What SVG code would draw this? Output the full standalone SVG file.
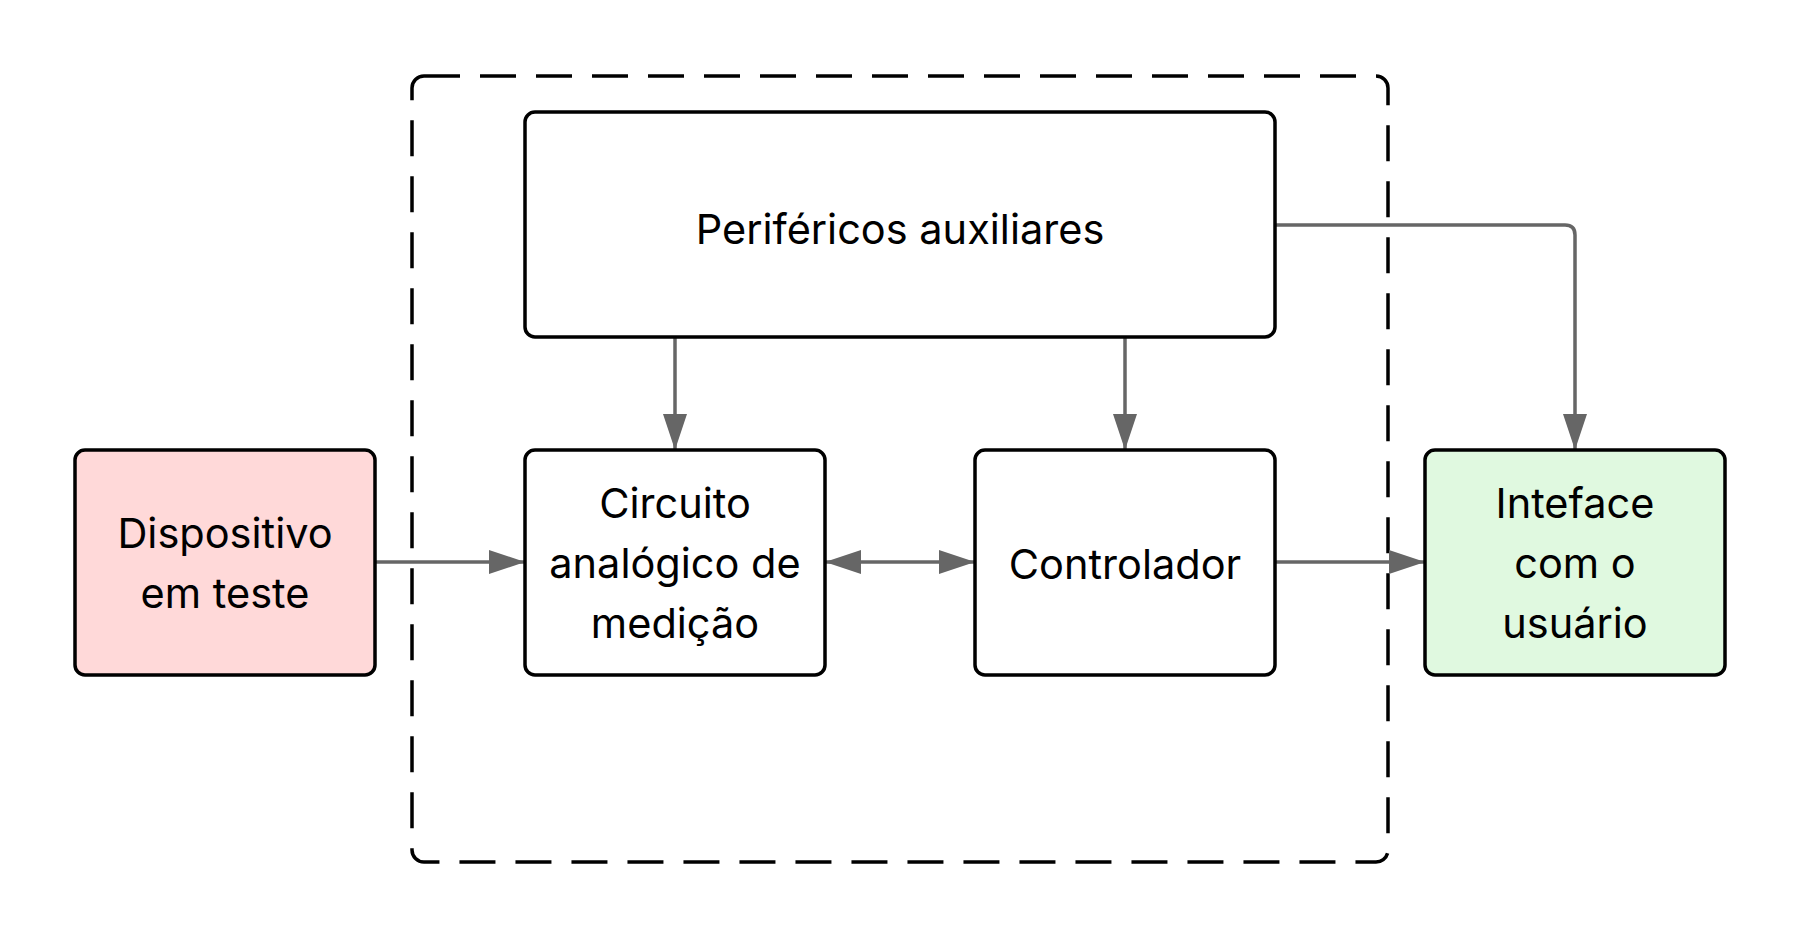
<svg xmlns="http://www.w3.org/2000/svg" width="1800" height="938" viewBox="0 0 1800 938">
<style>
.box{stroke:#000;stroke-width:3.5;}
.lbl{font-family:Inter,"Noto Sans","Liberation Sans",sans-serif;font-size:41.5px;fill:#000;text-anchor:middle;}
.con{fill:none;stroke:#666;stroke-width:3.5;}
</style>
<defs>
<marker id="ah" viewBox="0 0 36 24" refX="36" refY="12" markerWidth="36" markerHeight="24" markerUnits="userSpaceOnUse" orient="auto-start-reverse">
<path d="M0,0 L36,12 L0,24 Z" fill="#666"/>
</marker>
</defs>
<rect width="1800" height="938" fill="#fff"/>
<g id="system-boundary">
<rect x="412" y="76" width="976" height="786" rx="12" fill="none" stroke="#000" stroke-width="3.5" stroke-dasharray="36 20"/>
</g>
<g id="connectors">
<path class="con" d="M375,562 L525,562" marker-end="url(#ah)"/>
<path class="con" d="M825,562 L975,562" marker-start="url(#ah)" marker-end="url(#ah)"/>
<path class="con" d="M1275,562 L1425,562" marker-end="url(#ah)"/>
<path class="con" d="M675,337 L675,450" marker-end="url(#ah)"/>
<path class="con" d="M1125,337 L1125,450" marker-end="url(#ah)"/>
<path class="con" d="M1275,225 L1565,225 Q1575,225 1575,235 L1575,450" marker-end="url(#ah)"/>
</g>
<g id="perifericos">
<rect class="box" x="525" y="112" width="750" height="225" rx="10" fill="#fff"/>
<text class="lbl" x="900" y="244">Periféricos auxiliares</text>
</g>
<g id="dispositivo">
<rect class="box" x="75" y="450" width="300" height="225" rx="10" fill="#FFD9D9"/>
<text class="lbl" x="225" y="548">Dispositivo</text>
<text class="lbl" x="225" y="608">em teste</text>
</g>
<g id="circuito">
<rect class="box" x="525" y="450" width="300" height="225" rx="10" fill="#fff"/>
<text class="lbl" x="675" y="518">Circuito</text>
<text class="lbl" x="675" y="578">analógico de</text>
<text class="lbl" x="675" y="638">medição</text>
</g>
<g id="controlador">
<rect class="box" x="975" y="450" width="300" height="225" rx="10" fill="#fff"/>
<text class="lbl" x="1125" y="579">Controlador</text>
</g>
<g id="interface">
<rect class="box" x="1425" y="450" width="300" height="225" rx="10" fill="#E0F9E0"/>
<text class="lbl" x="1575" y="518">Inteface</text>
<text class="lbl" x="1575" y="578">com o</text>
<text class="lbl" x="1575" y="638">usuário</text>
</g>
</svg>
